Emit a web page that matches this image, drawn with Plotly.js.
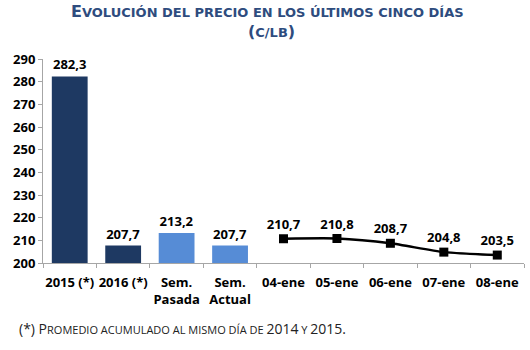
<!DOCTYPE html>
<html>
<head>
<meta charset="utf-8">
<script src="https://cdn.plot.ly/plotly-3.0.1.min.js"></script>
<style>html,body{margin:0;padding:0;background:#fff;}#chart{width:530px;height:350px;}</style>
</head>
<body>
<div id="chart"></div>
<script>
var categories = ["2015 (*)", "2016 (*)", "Sem.<br>Pasada", "Sem.<br>Actual", "04-ene", "05-ene", "06-ene", "07-ene", "08-ene"];
var barCategories = ["2015 (*)", "2016 (*)", "Sem.<br>Pasada", "Sem.<br>Actual"];
var barValues = [282.3, 207.7, 213.2, 207.7];
var barColors = ["#1E3962", "#1E3962", "#568CD6", "#568CD6"];
var dayCategories = ["04-ene", "05-ene", "06-ene", "07-ene", "08-ene"];
var dayValues = [210.7, 210.8, 208.7, 204.8, 203.5];
var yTicks = [200, 210, 220, 230, 240, 250, 260, 270, 280, 290];

function fmt(v){ return v.toFixed(1).replace('.', ','); }

var fam = "Open Sans, Liberation Sans, sans-serif";
var boldFont = {family: fam, size: 13, color: "#000", weight: "bold"};

var traces = [
  {
    type: "bar",
    x: barCategories,
    y: barValues,
    marker: {color: barColors},
    width: 0.67,
    text: barValues.map(fmt),
    textposition: "outside",
    textfont: boldFont,
    cliponaxis: false,
    hoverinfo: "skip"
  },
  {
    type: "scatter",
    mode: "lines+markers+text",
    x: dayCategories,
    y: dayValues,
    line: {color: "#000", width: 2.5, shape: "spline", smoothing: 0.6},
    marker: {symbol: "square", size: 9, color: "#000"},
    text: dayValues.map(fmt),
    textposition: "top center",
    textfont: boldFont,
    cliponaxis: false,
    hoverinfo: "skip"
  }
];

var titleColor = "#2E4C7E";
var layout = {
  width: 530, height: 350,
  margin: {l: 43, r: 6, t: 59, b: 87},
  paper_bgcolor: "#fff", plot_bgcolor: "#fff",
  showlegend: false,
  xaxis: {
    type: "category",
    categoryorder: "array",
    categoryarray: categories,
    tickson: "boundaries",
    ticks: "outside", ticklen: 4, tickcolor: "#A6A6A6",
    showline: true, linecolor: "#A6A6A6", linewidth: 1,
    showgrid: false,
    tickangle: 0,
    ticklabelstandoff: 7,
    tickfont: boldFont,
    range: [-0.5, 8.5]
  },
  yaxis: {
    range: [200, 290],
    tickvals: yTicks,
    ticktext: yTicks.map(String),
    ticks: "outside", ticklen: 4, tickcolor: "#A6A6A6",
    showline: true, linecolor: "#A6A6A6", linewidth: 1,
    showgrid: false, zeroline: false,
    tickfont: boldFont
  },
  annotations: [
    {
      xref: "paper", yref: "paper", x: 0.466, y: 1.235, xanchor: "center", yanchor: "middle",
      showarrow: false,
      text: "<b><span style='font-size:16px'>E</span>VOLUCIÓN DEL PRECIO EN LOS ÚLTIMOS CINCO DÍAS</b>",
      font: {family: "DejaVu Sans, Verdana, sans-serif", size: 13, color: titleColor}
    },
    {
      xref: "paper", yref: "paper", x: 0.475, y: 1.135, xanchor: "center", yanchor: "middle",
      showarrow: false,
      text: "<b><span style='font-size:16px'>(</span>C/LB<span style='font-size:16px'>)</span></b>",
      font: {family: "DejaVu Sans, Verdana, sans-serif", size: 13, color: titleColor}
    },
    {
      xref: "paper", yref: "paper", x: -0.055, y: -0.32, xanchor: "left", yanchor: "middle",
      showarrow: false,
      text: "<span style='font-size:14px'>(*) P</span>ROMEDIO ACUMULADO AL MISMO DÍA DE <span style='font-size:14px'>2014</span> Y <span style='font-size:14px'>2015.</span>",
      font: {family: fam, size: 11, color: "#222"}
    }
  ]
};

Plotly.newPlot("chart", traces, layout, {staticPlot: true, displayModeBar: false});
</script>
</body>
</html>
